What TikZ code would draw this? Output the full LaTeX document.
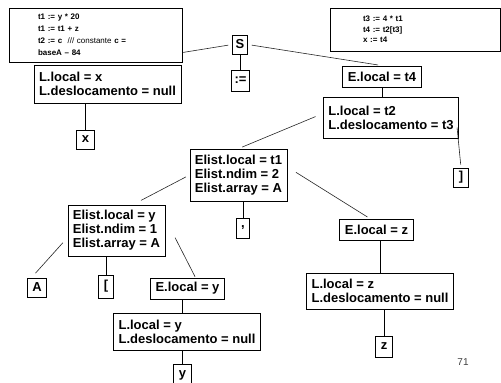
\documentclass[tikz,border=0pt]{standalone}
\usepackage{fontspec}
\setmainfont{Liberation Sans}

\begin{document}
\begin{tikzpicture}[
        x=1pt, y=1pt,
        box/.style={
            draw,
            line width=0.8pt,
            fill=white,
            align=left,
            inner xsep=5pt,
            inner ysep=3pt,
            font=\bfseries\fontsize{13}{14}\selectfont
        },
        leaf/.style={box, minimum height=20pt},
        code/.style={
            draw,
            line width=0.8pt,
            fill=white,
            align=left,
            inner xsep=0pt,
            font=\bfseries\fontsize{8}{12}\selectfont
        },
        edge/.style={line width=0.6pt, black!85, shorten >=4pt, shorten <=4pt},
        link/.style={line width=0.7pt}
    ]
        \useasboundingbox (0,0) rectangle (501,-383);

        % tree nodes
        \node[box, inner xsep=3pt, minimum height=19pt] (S) at (240,-44.5) {S};
        \node[leaf, inner xsep=3pt, minimum height=21pt] (assign) at (240.5,-80.5) {:=};
        \node[box, minimum height=38pt] (Lx) at (107.5,-84) {L.local = x\\L.deslocamento = null};
        \node[leaf, minimum height=19pt] (xleaf) at (85.5,-139.5) {x};
        \node[box, minimum height=21pt] (Et4) at (382,-76.5) {E.local = t4};
        \node[box, minimum height=41pt] (Lt2) at (391,-117.5) {L.local = t2\\L.deslocamento = t3};
        \node[leaf, minimum height=19pt] (rbr) at (461,-177.5) {]};
        \node[box, minimum height=52pt] (Elt1) at (238.5,-175) {Elist.local = t1\\Elist.ndim = 2\\Elist.array = A};
        \node[leaf] (comma) at (243,-228) {,};
        \node[box, minimum height=21pt] (Ez) at (376.5,-229.5) {E.local = z};
        \node[box, minimum height=36pt] (Lz) at (380,-291) {L.local = z\\L.deslocamento = null};
        \node[leaf, minimum height=21pt] (zleaf) at (384,-346.5) {z};
        \node[box, minimum height=51pt] (Ely) at (116.5,-230.5) {Elist.local = y\\Elist.ndim = 1\\Elist.array = A};
        \node[leaf, minimum height=19pt] (Aleaf) at (37,-287.5) {A};
        \node[leaf, minimum height=23pt] (lbr) at (106,-286.5) {[};
        \node[box, minimum height=21pt] (Ey) at (187.5,-288.5) {E.local = y};
        \node[box, minimum height=37pt] (Ly) at (187,-331.5) {L.local = y\\L.deslocamento = null};
        \node[leaf, minimum height=22pt] (yleaf) at (182.5,-375) {y};

        % S -> L (partly under the code box)
        \draw[edge, shorten >=12pt] (S.west) -- (Lx.north);

        % generated code
        \node[code, minimum width=173pt, minimum height=54pt, text width=115pt] (code1) at (95.5,-35)
            {t1 := y * 20\\t1 := t1 + z\\t2 := c \ \mdseries/// constante \bfseries c =\\baseA – 84};
        \node[code, minimum width=170pt, minimum height=43pt, text width=104pt,
              font=\bfseries\fontsize{8}{10.5}\selectfont] (code2) at (415,-29.5)
            {t3 := 4 * t1\\t4 := t2[t3]\\x := t4};

        % diagonal edges
        \draw[edge, shorten >=4pt] (S.east) -- (Et4.north);
        \draw[edge, shorten <=8pt] ([yshift=4pt]Lt2.west) -- (Elt1.north);
        \draw[edge, shorten <=0pt, shorten >=3pt] ([shift={(-2pt,-10pt)}]Lt2.east) -- (rbr.north);
        \draw[edge, shorten >=9pt] (Elt1.west) -- ([xshift=16.5pt]Ely.north);
        \draw[edge, shorten <=10pt, shorten >=3pt] ([yshift=8pt]Elt1.east) -- ([xshift=-6.5pt]Ez.north);
        \draw[edge, shorten <=7pt, shorten >=6pt] ([yshift=-7pt]Ely.west) -- ([xshift=-5.5pt]Aleaf.north);
        \draw[edge, shorten <=8pt, shorten >=1pt] ([xshift=6pt]Ely.east) -- ([xshift=8pt]Ey.north);

        % vertical edges
        \draw[link] (S.south) -- (S.south |- assign.north);
        \draw[link] (Lx.south -| xleaf.north) -- (xleaf.north);
        \draw[link] (Et4.south) -- (Et4.south |- Lt2.north);
        \draw[link] (Elt1.south -| comma.north) -- (comma.north);
        \draw[link] (Ez.south -| Lz.north) -- (Lz.north);
        \draw[link] (Lz.south -| zleaf.north) -- (zleaf.north);
        \draw[link] (Ely.south -| lbr.north) -- (lbr.north);
        \draw[link] (Ey.south -| yleaf.north) -- (Ly.north -| yleaf.north);
        \draw[link] (Ly.south -| yleaf.north) -- (yleaf.north);

        % page number
        \node[font=\fontsize{10}{12}\selectfont, text=black!75] (pnum) at (463,-362) {71};
    \end{tikzpicture}
\end{document}
